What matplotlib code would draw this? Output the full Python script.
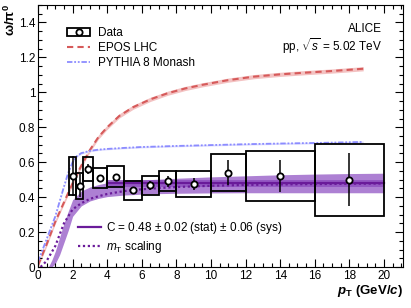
import numpy as np
import matplotlib
matplotlib.use('Agg')
import matplotlib.pyplot as plt
from matplotlib.lines import Line2D
from matplotlib.patches import Rectangle
from matplotlib.ticker import MultipleLocator, FormatStrFormatter

plt.rcParams['font.family'] = ['Liberation Sans', 'DejaVu Sans']
plt.rcParams['mathtext.fontset'] = 'custom'
plt.rcParams['mathtext.rm'] = 'Liberation Sans'
plt.rcParams['mathtext.it'] = 'Liberation Sans:italic'
plt.rcParams['mathtext.bf'] = 'Liberation Sans:bold'
plt.rcParams['mathtext.bfit'] = 'Liberation Sans:italic:bold'

# data points (omega/pi0 ratio)
bin_lo = [1.8, 2.2, 2.6, 3.2, 4.0, 5.0, 6.0, 7.0, 8.0, 10.0, 12.0, 16.0]
bin_hi = [2.2, 2.6, 3.2, 4.0, 5.0, 6.0, 7.0, 8.0, 10.0, 12.0, 16.0, 20.0]
pt = [2.0, 2.4, 2.9, 3.6, 4.5, 5.5, 6.5, 7.5, 9.0, 11.0, 14.0, 18.0]
ratio = [0.52, 0.465, 0.56, 0.51, 0.518, 0.44, 0.468, 0.49, 0.474, 0.541, 0.522, 0.50]
stat = [0.115, 0.067, 0.03, 0.015, 0.015, 0.02, 0.025, 0.03, 0.033, 0.07, 0.09, 0.15]
sys = [0.11, 0.073, 0.07, 0.057, 0.062, 0.055, 0.053, 0.057, 0.074, 0.106, 0.144, 0.207]

# EPOS LHC
epos_pt = [0.0, 0.5, 1.0, 1.5, 2.0, 2.5, 3.0, 3.5, 4.0, 4.7, 5.5, 6.5, 7.5, 8.5, 9.5,
           11.0, 12.5, 14.0, 15.5, 17.0, 18.8]
epos = [0.01, 0.13, 0.26, 0.37, 0.48, 0.58, 0.67, 0.745, 0.80, 0.865, 0.915, 0.96, 0.995,
        1.022, 1.043, 1.07, 1.09, 1.103, 1.113, 1.122, 1.135]

# PYTHIA 8 Monash
pyth_pt = [0.0, 0.5, 1.0, 1.5, 1.75, 2.0, 2.25, 2.5, 3.0, 3.5, 4.0, 5.0, 6.0, 7.0, 8.0,
           10.0, 12.0, 14.0, 16.0, 18.8]
pyth = [0.03, 0.16, 0.29, 0.46, 0.54, 0.60, 0.635, 0.652, 0.665, 0.672, 0.676, 0.682,
        0.687, 0.69, 0.693, 0.698, 0.703, 0.707, 0.71, 0.716]

# mT scaling
mt_pt = [0.15, 0.5, 1.0, 1.5, 2.0, 2.5, 3.0, 3.5, 4.0, 5.0, 6.0, 7.0, 8.0, 10.0, 12.0, 15.0, 20.0]
mt = [0.0, 0.035, 0.12, 0.25, 0.33, 0.365, 0.39, 0.405, 0.418, 0.435, 0.445, 0.452, 0.458,
      0.465, 0.47, 0.474, 0.478]

# mT scaling uncertainty band
band_pt = [0.6, 0.8, 1.0, 1.25, 1.5, 1.75, 2.0, 2.5, 3.0, 3.5, 4.0, 5.0, 6.0, 7.0, 8.0,
           10.0, 12.0, 14.0, 16.0, 18.0, 20.0]
band_lo = [0.0, 0.0, 0.02, 0.07, 0.14, 0.21, 0.29, 0.35, 0.378, 0.393, 0.403, 0.412, 0.417,
           0.42, 0.422, 0.424, 0.425, 0.425, 0.425, 0.425, 0.425]
band_hi = [0.0, 0.04, 0.09, 0.17, 0.25, 0.32, 0.385, 0.435, 0.458, 0.472, 0.482, 0.492,
           0.498, 0.503, 0.508, 0.516, 0.522, 0.528, 0.532, 0.535, 0.537]

# constant fit
C_val, C_stat, C_sys = 0.48, 0.02, 0.06
fit_range = [4.0, 20.0]

fig = plt.figure(figsize=(4.11, 3.08), dpi=100)
ax = fig.add_axes([38 / 411, 41 / 308, 365 / 411, 262 / 308])

purple = '#6a1b9a'
ax.fill_between(band_pt, band_lo, band_hi, color='#ad80d3', lw=0)
ax.fill_between(fit_range, C_val - C_stat, C_val + C_stat, color='#8e4fbf', lw=0, alpha=0.8)
ax.plot(fit_range, [C_val, C_val], color=purple, lw=1.6)
ax.plot(mt_pt, mt, color=purple, lw=1.6, ls=(0, (1, 1.2)))

epos = np.array(epos)
pyth = np.array(pyth)
ax.fill_between(epos_pt, epos - 0.012, epos + 0.012, color='#f3c2c2', lw=0)
ax.plot(epos_pt, epos, color='#d65a5a', lw=1.5, ls=(0, (3, 2)))
ax.fill_between(pyth_pt, pyth - 0.005, pyth + 0.005, color='#dcdcff', lw=0)
ax.plot(pyth_pt, pyth, color='#8c8cff', lw=1.3, ls=(0, (3, 1, 1, 1, 1, 1)))

# systematic boxes
lo = np.array(ratio) - np.array(sys)
ax.bar(bin_lo, 2 * np.array(sys), bottom=lo, width=np.array(bin_hi) - np.array(bin_lo),
       align='edge', fill=False, edgecolor='black', lw=1.3, zorder=4)
ax.errorbar(pt, ratio, yerr=stat, fmt='o', ms=4.5, mfc='white', mec='black', mew=1.3,
            ecolor='black', elinewidth=1.1, capsize=0, zorder=5)

ax.set_xlim(0, 21.1)
ax.set_ylim(0, 1.5)
ax.xaxis.set_major_locator(MultipleLocator(2))
ax.xaxis.set_minor_locator(MultipleLocator(0.5))
ax.yaxis.set_major_locator(MultipleLocator(0.2))
ax.yaxis.set_minor_locator(MultipleLocator(0.05))
ax.yaxis.set_major_formatter(FormatStrFormatter('%g'))
ax.tick_params(which='both', direction='in', top=True, right=True, labelsize=8.5, width=0.8)
ax.tick_params(which='major', length=5.5, pad=2)
ax.tick_params(which='minor', length=3)
for s in ax.spines.values():
    s.set_linewidth(0.8)

data_h = (Rectangle((0, 0), 1, 1, fill=False, ec='black', lw=1.3),
          Line2D([], [], marker='o', ls='', ms=4.5, mfc='white', mec='black', mew=1.3))
h_epos = Line2D([], [], color='#d65a5a', lw=1.5, ls=(0, (3, 2)))
h_pyth = Line2D([], [], color='#8c8cff', lw=1.3, ls=(0, (3, 1, 1, 1, 1, 1)))
leg1 = ax.legend([data_h, h_epos, h_pyth], ['Data', 'EPOS LHC', 'PYTHIA 8 Monash'],
                 loc='upper left', bbox_to_anchor=(0.079, 0.916), frameon=False,
                 fontsize=8.5, handlelength=2.0, handletextpad=0.6, labelspacing=0.25,
                 borderpad=0, borderaxespad=0)
ax.add_artist(leg1)
h_c = Line2D([], [], color=purple, lw=1.6)
h_mt = Line2D([], [], color=purple, lw=1.6, ls=(0, (1, 1.2)))
ax.legend([h_c, h_mt], [r'C = 0.48 $\pm$ 0.02 (stat) $\pm$ 0.06 (sys)', r'$m_{\mathrm{T}}$ scaling'],
          loc='upper left', bbox_to_anchor=(0.11, 0.179), frameon=False,
          fontsize=8.5, handlelength=1.9, handletextpad=0.5, labelspacing=0.25,
          borderpad=0, borderaxespad=0)

ax.text(0.942, 0.909, 'ALICE', transform=ax.transAxes, ha='right', va='center', fontsize=8.5)
ax.text(0.942, 0.844, r'pp, $\sqrt{s}$ = 5.02 TeV', transform=ax.transAxes,
        ha='right', va='center', fontsize=8.5)

fig.text(10 / 411, 1 - 4 / 308, r'$\mathbf{\omega/\pi^0}$', rotation=90, ha='center', va='top',
         fontsize=9.5, fontweight='bold')
fig.text(403 / 411, 1 - 291 / 308, r'$\boldsymbol{p}_{\mathbf{T}}$ (GeV/$\boldsymbol{c}$)',
         ha='right', va='center', fontsize=9.5, fontweight='bold')

fig.savefig('out.png', dpi=100)
